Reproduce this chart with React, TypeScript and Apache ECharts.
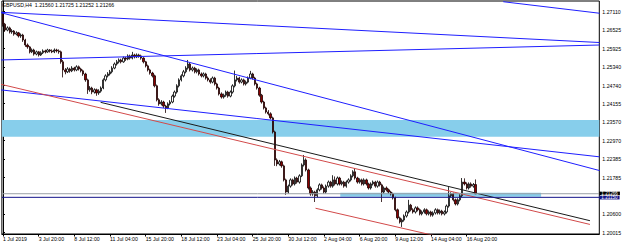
import React, { useEffect, useRef } from "react";
import * as echarts from "echarts";

// [open, close, low, high] for each H4 bar, 1 Jul 2019 ... 19 Aug 2019
const candles: number[][] = [
  [1.2703, 1.2671, 1.2663, 1.2712], [1.2671, 1.2652, 1.2646, 1.2675], [1.2652, 1.2659, 1.2648, 1.2664], [1.2659, 1.2646, 1.2641, 1.2663],
  [1.2646, 1.2649, 1.2640, 1.2655], [1.2649, 1.2639, 1.2634, 1.2652], [1.2639, 1.2643, 1.2635, 1.2648], [1.2643, 1.2633, 1.2628, 1.2646],
  [1.2633, 1.2636, 1.2627, 1.2641], [1.2636, 1.2620, 1.2614, 1.2640], [1.2620, 1.2604, 1.2598, 1.2624], [1.2604, 1.2598, 1.2592, 1.2609],
  [1.2598, 1.2582, 1.2577, 1.2601], [1.2582, 1.2588, 1.2578, 1.2593], [1.2588, 1.2575, 1.2570, 1.2592], [1.2575, 1.2582, 1.2571, 1.2586],
  [1.2582, 1.2572, 1.2567, 1.2585], [1.2572, 1.2579, 1.2569, 1.2584], [1.2579, 1.2585, 1.2575, 1.2590], [1.2585, 1.2582, 1.2577, 1.2589],
  [1.2582, 1.2588, 1.2579, 1.2592], [1.2588, 1.2585, 1.2580, 1.2591], [1.2585, 1.2582, 1.2578, 1.2590], [1.2582, 1.2588, 1.2578, 1.2593],
  [1.2588, 1.2585, 1.2580, 1.2592], [1.2585, 1.2582, 1.2576, 1.2590], [1.2582, 1.2550, 1.2544, 1.2586], [1.2550, 1.2524, 1.2500, 1.2556],
  [1.2524, 1.2518, 1.2510, 1.2530], [1.2518, 1.2527, 1.2514, 1.2533], [1.2527, 1.2521, 1.2515, 1.2531], [1.2521, 1.2530, 1.2517, 1.2536],
  [1.2530, 1.2524, 1.2519, 1.2534], [1.2524, 1.2534, 1.2520, 1.2539], [1.2534, 1.2527, 1.2522, 1.2538], [1.2527, 1.2521, 1.2516, 1.2531],
  [1.2521, 1.2511, 1.2505, 1.2525], [1.2511, 1.2492, 1.2486, 1.2515], [1.2492, 1.2460, 1.2447, 1.2496], [1.2460, 1.2466, 1.2454, 1.2472],
  [1.2466, 1.2453, 1.2446, 1.2470], [1.2453, 1.2460, 1.2448, 1.2465], [1.2460, 1.2450, 1.2441, 1.2464], [1.2450, 1.2456, 1.2444, 1.2462],
  [1.2456, 1.2466, 1.2451, 1.2471], [1.2466, 1.2492, 1.2462, 1.2497], [1.2492, 1.2505, 1.2487, 1.2510], [1.2505, 1.2511, 1.2500, 1.2517],
  [1.2511, 1.2518, 1.2506, 1.2524], [1.2518, 1.2530, 1.2513, 1.2536], [1.2530, 1.2543, 1.2526, 1.2548], [1.2543, 1.2550, 1.2538, 1.2556],
  [1.2550, 1.2556, 1.2545, 1.2561], [1.2556, 1.2550, 1.2545, 1.2560], [1.2550, 1.2562, 1.2547, 1.2567], [1.2562, 1.2559, 1.2553, 1.2566],
  [1.2559, 1.2569, 1.2555, 1.2574], [1.2569, 1.2562, 1.2557, 1.2573], [1.2562, 1.2572, 1.2558, 1.2582], [1.2572, 1.2566, 1.2561, 1.2576],
  [1.2566, 1.2572, 1.2562, 1.2577], [1.2572, 1.2569, 1.2563, 1.2576], [1.2569, 1.2562, 1.2557, 1.2573], [1.2562, 1.2550, 1.2545, 1.2565],
  [1.2550, 1.2537, 1.2532, 1.2553], [1.2537, 1.2524, 1.2519, 1.2541], [1.2524, 1.2514, 1.2509, 1.2528], [1.2514, 1.2505, 1.2500, 1.2518],
  [1.2505, 1.2473, 1.2468, 1.2509], [1.2473, 1.2428, 1.2423, 1.2477], [1.2428, 1.2415, 1.2409, 1.2433], [1.2415, 1.2421, 1.2410, 1.2427],
  [1.2421, 1.2408, 1.2402, 1.2425], [1.2408, 1.2402, 1.2386, 1.2412], [1.2402, 1.2415, 1.2398, 1.2420], [1.2415, 1.2421, 1.2410, 1.2427],
  [1.2421, 1.2440, 1.2417, 1.2445], [1.2440, 1.2453, 1.2435, 1.2458], [1.2453, 1.2473, 1.2448, 1.2478], [1.2473, 1.2492, 1.2468, 1.2497],
  [1.2492, 1.2505, 1.2487, 1.2510], [1.2505, 1.2518, 1.2500, 1.2524], [1.2518, 1.2530, 1.2513, 1.2536], [1.2530, 1.2543, 1.2525, 1.2556],
  [1.2543, 1.2524, 1.2519, 1.2548], [1.2524, 1.2530, 1.2519, 1.2535], [1.2530, 1.2518, 1.2513, 1.2534], [1.2518, 1.2524, 1.2513, 1.2529],
  [1.2524, 1.2511, 1.2506, 1.2528], [1.2511, 1.2505, 1.2500, 1.2516], [1.2505, 1.2511, 1.2500, 1.2516], [1.2511, 1.2498, 1.2493, 1.2515],
  [1.2498, 1.2492, 1.2487, 1.2503], [1.2492, 1.2485, 1.2480, 1.2497], [1.2485, 1.2498, 1.2481, 1.2503], [1.2498, 1.2479, 1.2474, 1.2502],
  [1.2479, 1.2466, 1.2461, 1.2483], [1.2466, 1.2447, 1.2442, 1.2470], [1.2447, 1.2437, 1.2432, 1.2452], [1.2437, 1.2443, 1.2432, 1.2448],
  [1.2443, 1.2453, 1.2438, 1.2458], [1.2453, 1.2440, 1.2435, 1.2457], [1.2440, 1.2453, 1.2436, 1.2458], [1.2453, 1.2473, 1.2448, 1.2478],
  [1.2473, 1.2492, 1.2468, 1.2522], [1.2492, 1.2498, 1.2487, 1.2505], [1.2498, 1.2485, 1.2480, 1.2502], [1.2485, 1.2492, 1.2481, 1.2497],
  [1.2492, 1.2479, 1.2474, 1.2496], [1.2479, 1.2485, 1.2474, 1.2490], [1.2485, 1.2498, 1.2481, 1.2503], [1.2498, 1.2511, 1.2494, 1.2521],
  [1.2511, 1.2498, 1.2493, 1.2515], [1.2498, 1.2479, 1.2474, 1.2502], [1.2479, 1.2466, 1.2461, 1.2483], [1.2466, 1.2443, 1.2438, 1.2470],
  [1.2443, 1.2421, 1.2416, 1.2447], [1.2421, 1.2402, 1.2397, 1.2425], [1.2402, 1.2389, 1.2384, 1.2406], [1.2389, 1.2383, 1.2378, 1.2395],
  [1.2383, 1.2370, 1.2365, 1.2388], [1.2370, 1.2325, 1.2320, 1.2374], [1.2325, 1.2235, 1.2216, 1.2329], [1.2235, 1.2222, 1.2215, 1.2240],
  [1.2222, 1.2229, 1.2217, 1.2235], [1.2229, 1.2216, 1.2210, 1.2233], [1.2216, 1.2171, 1.2166, 1.2220], [1.2171, 1.2132, 1.2123, 1.2175],
  [1.2132, 1.2151, 1.2127, 1.2156], [1.2151, 1.2171, 1.2146, 1.2176], [1.2171, 1.2158, 1.2153, 1.2175], [1.2158, 1.2177, 1.2153, 1.2182],
  [1.2177, 1.2164, 1.2159, 1.2181], [1.2164, 1.2184, 1.2159, 1.2189], [1.2184, 1.2219, 1.2180, 1.2224], [1.2219, 1.2235, 1.2214, 1.2251],
  [1.2235, 1.2203, 1.2198, 1.2240], [1.2203, 1.2145, 1.2140, 1.2207], [1.2145, 1.2126, 1.2120, 1.2150], [1.2126, 1.2132, 1.2120, 1.2138],
  [1.2132, 1.2120, 1.2100, 1.2136], [1.2120, 1.2139, 1.2115, 1.2144], [1.2139, 1.2155, 1.2134, 1.2160], [1.2155, 1.2145, 1.2140, 1.2159],
  [1.2145, 1.2132, 1.2127, 1.2150], [1.2132, 1.2151, 1.2127, 1.2156], [1.2151, 1.2164, 1.2146, 1.2169], [1.2164, 1.2151, 1.2146, 1.2168],
  [1.2151, 1.2171, 1.2146, 1.2186], [1.2171, 1.2158, 1.2153, 1.2182], [1.2158, 1.2177, 1.2153, 1.2182], [1.2177, 1.2158, 1.2153, 1.2181],
  [1.2158, 1.2164, 1.2153, 1.2169], [1.2164, 1.2151, 1.2146, 1.2168], [1.2151, 1.2164, 1.2146, 1.2169], [1.2164, 1.2171, 1.2159, 1.2176],
  [1.2171, 1.2184, 1.2166, 1.2189], [1.2184, 1.2197, 1.2179, 1.2202], [1.2197, 1.2177, 1.2172, 1.2209], [1.2177, 1.2164, 1.2159, 1.2181],
  [1.2164, 1.2171, 1.2159, 1.2176], [1.2171, 1.2158, 1.2153, 1.2175], [1.2158, 1.2171, 1.2153, 1.2176], [1.2171, 1.2158, 1.2153, 1.2175],
  [1.2158, 1.2145, 1.2140, 1.2162], [1.2145, 1.2158, 1.2140, 1.2163], [1.2158, 1.2164, 1.2153, 1.2169], [1.2164, 1.2151, 1.2146, 1.2168],
  [1.2151, 1.2164, 1.2146, 1.2169], [1.2164, 1.2155, 1.2150, 1.2168], [1.2155, 1.2132, 1.2100, 1.2159], [1.2132, 1.2145, 1.2127, 1.2150],
  [1.2145, 1.2139, 1.2134, 1.2150], [1.2139, 1.2132, 1.2127, 1.2143], [1.2132, 1.2126, 1.2121, 1.2136], [1.2126, 1.2113, 1.2108, 1.2130],
  [1.2113, 1.2075, 1.2070, 1.2117], [1.2075, 1.2049, 1.2044, 1.2079], [1.2049, 1.2036, 1.2031, 1.2053], [1.2036, 1.2042, 1.2020, 1.2047],
  [1.2042, 1.2055, 1.2037, 1.2060], [1.2055, 1.2068, 1.2050, 1.2073], [1.2068, 1.2090, 1.2063, 1.2107], [1.2090, 1.2075, 1.2070, 1.2094],
  [1.2075, 1.2068, 1.2063, 1.2080], [1.2068, 1.2081, 1.2063, 1.2086], [1.2081, 1.2075, 1.2070, 1.2086], [1.2075, 1.2062, 1.2057, 1.2079],
  [1.2062, 1.2068, 1.2057, 1.2073], [1.2068, 1.2075, 1.2063, 1.2080], [1.2075, 1.2062, 1.2057, 1.2079], [1.2062, 1.2068, 1.2057, 1.2073],
  [1.2068, 1.2058, 1.2053, 1.2072], [1.2058, 1.2065, 1.2053, 1.2070], [1.2065, 1.2075, 1.2060, 1.2080], [1.2075, 1.2065, 1.2060, 1.2079],
  [1.2065, 1.2071, 1.2060, 1.2076], [1.2071, 1.2062, 1.2057, 1.2075], [1.2062, 1.2068, 1.2057, 1.2073], [1.2068, 1.2087, 1.2063, 1.2092],
  [1.2087, 1.2120, 1.2082, 1.2148], [1.2120, 1.2126, 1.2115, 1.2131], [1.2126, 1.2107, 1.2102, 1.2130], [1.2107, 1.2094, 1.2089, 1.2111],
  [1.2094, 1.2107, 1.2089, 1.2112], [1.2107, 1.2120, 1.2102, 1.2125], [1.2120, 1.2164, 1.2115, 1.2177], [1.2164, 1.2158, 1.2153, 1.2176],
  [1.2158, 1.2145, 1.2140, 1.2163], [1.2145, 1.2158, 1.2140, 1.2163], [1.2158, 1.2151, 1.2146, 1.2163], [1.2151, 1.2156, 1.2146, 1.2161],
  [1.2156, 1.21266, 1.21252, 1.21725],
];

const symbolName = "GBPUSD,H4";
const barSlots = 268;
const xLabelIndex = [0, 16, 32, 48, 64, 80, 96, 112, 128, 144, 160, 176, 192, 208];
const xLabels = [
  "1 Jul 2019", "3 Jul 20:00", "8 Jul 12:00", "11 Jul 04:00", "15 Jul 20:00", "18 Jul 12:00", "23 Jul 04:00",
  "25 Jul 20:00", "30 Jul 12:00", "2 Aug 04:00", "6 Aug 20:00", "9 Aug 12:00", "14 Aug 04:00", "16 Aug 20:00",
];
const yTicks = [1.2711, 1.26525, 1.25925, 1.2534, 1.2474, 1.24155, 1.2357, 1.2297, 1.22385, 1.21785, 1.206, 1.20015];
const yMin = 1.19973;
const yMax = 1.27453;

const bidPrice = 1.21266;
const levelPrice = 1.2115;
const zoneUpper = [1.23633, 1.23097];
const zoneLower = [151.3, 1.213, 241.4, 1.2117];

const blueLines = [
  [[224.4, 1.2743], [267.6, 1.2706]],
  [[-1, 1.2709], [267.6, 1.2612]],
  [[-1, 1.2556], [267.6, 1.2604]],
  [[-1, 1.2708], [267.6, 1.2201]],
  [[-1, 1.246], [267.6, 1.2245]],
];
const redLines = [
  [[-1, 1.2478], [263.3, 1.2028]],
  [[140.2, 1.208], [196.1, 1.1988]],
];
const blackLines = [[[43.8, 1.242], [263.3, 1.204]]];

const FONT = "Liberation Sans";
const FS = 5.2;

export default function App() {
  const ref = useRef<HTMLDivElement>(null);
  useEffect(() => {
    if (!ref.current) return;
    const chart = echarts.init(ref.current, undefined, { renderer: "svg" });
    const categories = Array.from({ length: barSlots }, (_, i) => {
      const j = xLabelIndex.indexOf(i);
      return j >= 0 ? xLabels[j] : "";
    });
    const last = candles[candles.length - 1];
    const lineSeries = (pts: number[][][], color: string) =>
      pts.map((p) => ({
        type: "line",
        xAxisIndex: 1,
        yAxisIndex: 0,
        data: p,
        symbol: "none",
        silent: true,
        z: 4,
        lineStyle: { color, width: 1 },
      }));
    const hLine = (price: number, color: string, boxColor: string, z: number, dy: number) => ({
      type: "line",
      xAxisIndex: 1,
      yAxisIndex: 0,
      data: [
        [-0.5, price],
        [barSlots - 0.5, price],
      ],
      symbol: "none",
      silent: true,
      clip: false,
      z,
      lineStyle: { color, width: 1 },
      endLabel: {
        show: true,
        distance: 0,
        offset: [0, dy],
        align: "left",
        verticalAlign: "middle",
        formatter: () => price.toFixed(5),
        color: "#fff",
        backgroundColor: boxColor,
        fontSize: 4.6,
        fontFamily: FONT,
        lineHeight: 3.6,
        padding: [0, 2, 0, 2],
      },
    });
    chart.setOption({
      animation: false,
      backgroundColor: "#ffffff",
      title: {
        text: `${symbolName}  ${last[0].toFixed(5)} ${last[3].toFixed(5)} ${last[2].toFixed(5)} ${last[1].toFixed(5)}`,
        left: 2,
        top: 2,
        padding: 0,
        textStyle: { fontSize: FS, fontWeight: "normal", color: "#000", fontFamily: FONT },
      },
      grid: { left: 1, top: 1, width: 598.3, height: 233, show: true, borderColor: "#000", borderWidth: 1, backgroundColor: "transparent" },
      xAxis: [
        {
          type: "category",
          data: categories,
          boundaryGap: true,
          axisLine: { show: true, lineStyle: { color: "#000", width: 1 } },
          axisTick: {
            show: true,
            alignWithLabel: true,
            length: 2.5,
            lineStyle: { color: "#000" },
            interval: (i: number) => xLabelIndex.includes(i),
          },
          axisLabel: {
            interval: (i: number) => xLabelIndex.includes(i),
            align: "left",
            margin: 2.5,
            fontSize: FS,
            fontFamily: FONT,
            color: "#000",
          },
          splitLine: { show: false },
        },
        { type: "value", min: -0.5, max: barSlots - 0.5, show: false },
      ],
      yAxis: {
        type: "value",
        position: "right",
        min: yMin,
        max: yMax,
        axisLine: { show: true, lineStyle: { color: "#000", width: 1 } },
        axisTick: { show: true, length: 2, lineStyle: { color: "#000" }, customValues: yTicks },
        axisLabel: {
          customValues: yTicks,
          formatter: (v: number) => v.toFixed(5),
          fontSize: FS,
          fontFamily: FONT,
          color: "#000",
          margin: 3,
        },
        splitLine: { show: false },
      },
      series: [
        {
          type: "line",
          xAxisIndex: 1,
          data: [],
          silent: true,
          z: 1,
          markArea: {
            silent: true,
            itemStyle: { color: "#87ceeb", opacity: 1 },
            data: [
              [{ xAxis: -0.5, yAxis: zoneUpper[0] }, { xAxis: barSlots - 0.5, yAxis: zoneUpper[1] }],
              [{ xAxis: zoneLower[0], yAxis: zoneLower[1] }, { xAxis: zoneLower[2], yAxis: zoneLower[3] }],
            ],
          },
        },
        {
          type: "candlestick",
          xAxisIndex: 0,
          data: candles,
          barWidth: 1.8,
          z: 3,
          silent: true,
          itemStyle: {
            color: "#ffffff",
            borderColor: "#000000",
            color0: "#8b0000",
            borderColor0: "#1a0000",
            borderWidth: 0.8,
          },
        },
        ...lineSeries(blueLines, "#1f1fff"),
        ...lineSeries(redLines, "#d24a4a"),
        ...lineSeries(blackLines, "#1a1a1a"),
        hLine(bidPrice, "#9aa0a6", "#000000", 5, -0.3),
        hLine(levelPrice, "#14148a", "#14148a", 6, 0.3),
      ],
    });
    return () => chart.dispose();
  }, []);
  return <div ref={ref} style={{ position: "fixed", left: 0, top: 0, width: 625, height: 246 }} />;
}
